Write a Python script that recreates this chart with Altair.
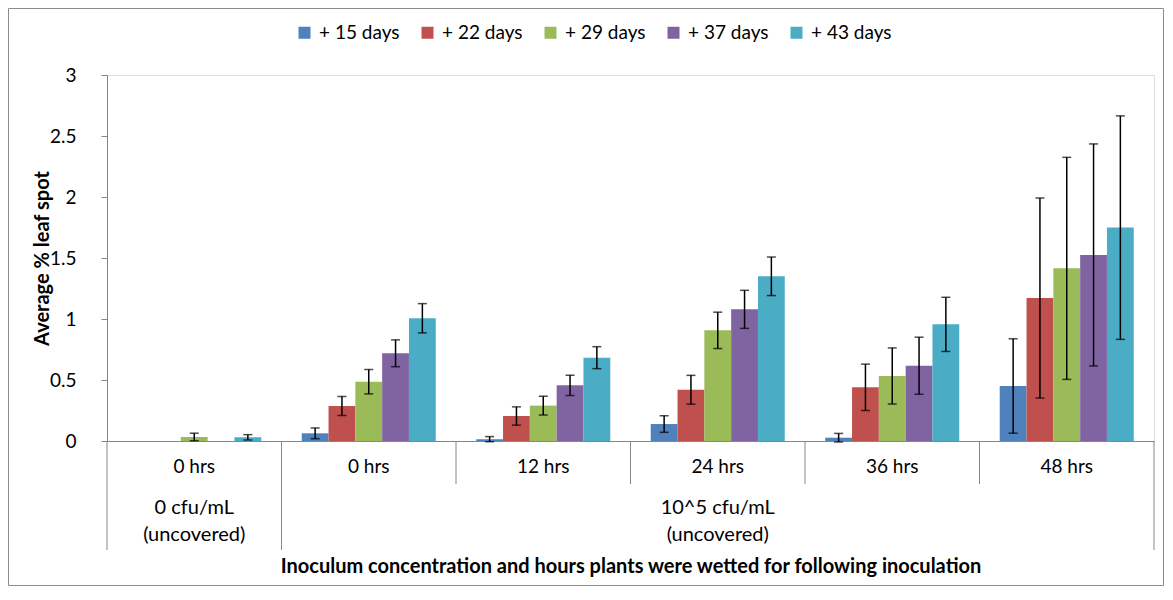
import altair as alt
import pandas as pd

# ---------------- data ----------------
series = ["+ 15 days", "+ 22 days", "+ 29 days", "+ 37 days", "+ 43 days"]
colors = ["#4F81BD", "#C0504D", "#9BBB59", "#8064A2", "#4BACC6"]

group_keys = ["g0", "g1", "g2", "g3", "g4", "g5"]
hour_labels = ["0 hrs", "0 hrs", "12 hrs", "24 hrs", "36 hrs", "48 hrs"]

conc_keys = ["g0", "g3"]
conc_labels = ["0 cfu/mL\n(uncovered)", "10^5 cfu/mL\n(uncovered)"]

mean_15 = [0.0, 0.063, 0.015, 0.139, 0.027, 0.451]
mean_22 = [0.0, 0.287, 0.205, 0.420, 0.440, 1.172]
mean_29 = [0.033, 0.486, 0.290, 0.907, 0.533, 1.415]
mean_37 = [0.0, 0.719, 0.456, 1.079, 0.617, 1.525]
mean_43 = [0.030, 1.006, 0.683, 1.350, 0.956, 1.749]

err_15 = [0.0, 0.044, 0.021, 0.068, 0.035, 0.387]
err_22 = [0.0, 0.078, 0.075, 0.118, 0.190, 0.820]
err_29 = [0.031, 0.100, 0.077, 0.149, 0.230, 0.910]
err_37 = [0.0, 0.110, 0.083, 0.156, 0.234, 0.910]
err_43 = [0.022, 0.120, 0.090, 0.158, 0.222, 0.916]

y_ticks = [0, 0.5, 1, 1.5, 2, 2.5, 3]

x_title = "Inoculum concentration and hours plants were wetted for following inoculation"
y_title = "Average % leaf spot"

# ---------------- tables ----------------
means = [mean_15, mean_22, mean_29, mean_37, mean_43]
errs = [err_15, err_22, err_29, err_37, err_43]
rows = []
for s, m_list, e_list in zip(series, means, errs):
    for k, m, e in zip(group_keys, m_list, e_list):
        rows.append({"key": k, "series": s, "mean": m, "err": e,
                     "lo": m - e, "hi": m + e})
df = pd.DataFrame(rows)
df_err = df[df["err"] > 0]

df_conc = pd.DataFrame({"key": conc_keys, "label": conc_labels})
df_long_left = pd.DataFrame({"key": ["g0", "g1"]})
df_long_right = pd.DataFrame({"key": ["g5"]})
df_short = pd.DataFrame({"key": ["g2", "g3", "g4", "g5"]})

W, H = 1047, 366
FONT = "Lato"
GRAY = "#868686"

label_expr = " : ".join(
    f"datum.value == '{k}' ? '{l}'" for k, l in zip(group_keys, hour_labels)
) + " : ''"

x_scale = alt.Scale(domain=group_keys, paddingInner=0, paddingOuter=0)
x_axis = alt.Axis(
    labelExpr=label_expr, labelAngle=0, ticks=False, labelPadding=16,
    labelFontSize=19, labelColor="#000000", labelFont=FONT,
    domainColor=GRAY, domainWidth=1,
    titleFontSize=20, titleFontWeight="bold", titleColor="#000000", titleFont=FONT,
    titleX=W / 2, titleY=125, titleBaseline="middle",
)


def xenc(band=None):
    if band is None:
        return alt.X("key:N", scale=x_scale, axis=x_axis, title=x_title, sort=group_keys)
    return alt.X("key:N", scale=x_scale, axis=x_axis, title=x_title,
                 sort=group_keys, bandPosition=band)


y_scale = alt.Scale(domain=[0, 3], nice=False, zero=True)
y_axis = alt.Axis(
    values=y_ticks, format="~g", grid=False,
    tickColor=GRAY, tickSize=6, domainColor=GRAY, labelPadding=25,
    labelFontSize=19, labelColor="#000000", labelFont=FONT,
    titleFontSize=20, titleFontWeight="bold", titleColor="#000000", titleFont=FONT,
    titleX=-65, titleY=H / 2, titleBaseline="middle", titleAngle=-90,
)


def yenc(field):
    return alt.Y(field, scale=y_scale, axis=y_axis, title=y_title)


xoff = alt.XOffset("series:N", sort=series,
                   scale=alt.Scale(domain=series, paddingInner=0, paddingOuter=0.755))

color = alt.Color(
    "series:N", sort=series,
    scale=alt.Scale(domain=series, range=colors),
    legend=alt.Legend(
        title=None, orient="none", direction="horizontal", columns=5,
        legendX=188, legendY=-52, padding=0,
        symbolType="square", symbolSize=144, symbolStrokeWidth=0,
        labelFontSize=19, labelFont=FONT, labelColor="#000000",
        labelOffset=5, columnPadding=18, gridAlign="all",
    ),
)

bars = alt.Chart(df).mark_bar().encode(
    x=xenc(), xOffset=xoff, y=yenc("mean:Q"), color=color
)

err_rule = alt.Chart(df_err).mark_rule(color="#000000", strokeWidth=1.5).encode(
    x=xenc(), xOffset=xoff, y=yenc("lo:Q"), y2="hi:Q"
)
cap_hi = alt.Chart(df_err).mark_tick(color="#000000", thickness=1.5, size=9,
                                     orient="horizontal").encode(
    x=xenc(), xOffset=xoff, y=yenc("hi:Q")
)
cap_lo = alt.Chart(df_err).mark_tick(color="#000000", thickness=1.5, size=9,
                                     orient="horizontal").encode(
    x=xenc(), xOffset=xoff, y=yenc("lo:Q")
)

sep_long_l = alt.Chart(df_long_left).mark_rule(color=GRAY, strokeWidth=1).encode(
    x=xenc(0), y=alt.value(H), y2=alt.value(H + 109)
)
sep_long_r = alt.Chart(df_long_right).mark_rule(color=GRAY, strokeWidth=1).encode(
    x=xenc(1), y=alt.value(H), y2=alt.value(H + 109)
)
sep_short = alt.Chart(df_short).mark_rule(color=GRAY, strokeWidth=1).encode(
    x=xenc(0), y=alt.value(H), y2=alt.value(H + 43)
)

conc_text = alt.Chart(df_conc).mark_text(
    lineBreak="\n", lineHeight=27, fontSize=20, font=FONT, color="#000000",
    baseline="middle", align="center",
).encode(x=xenc(), y=alt.value(H + 67), text="label:N")

border = alt.Chart(alt.Data(values=[{"a": 1}])).mark_rect(
    fillOpacity=0, stroke="#8c8c8c", strokeWidth=1
).encode(
    x=alt.value(-98.5), x2=alt.value(W + 9.5),
    y=alt.value(-66.5), y2=alt.value(H + 144.5),
)

chart = alt.layer(
    border, sep_long_l, sep_long_r, sep_short, bars, err_rule, cap_hi, cap_lo, conc_text
).properties(
    width=W, height=H,
    autosize=alt.AutoSizeParams(type="none"),
    padding={"left": 99, "top": 67, "right": 10, "bottom": 145},
).configure_view(stroke=None).configure(font=FONT)

chart.save("out.html", embed_options={"renderer": "svg", "actions": False})
